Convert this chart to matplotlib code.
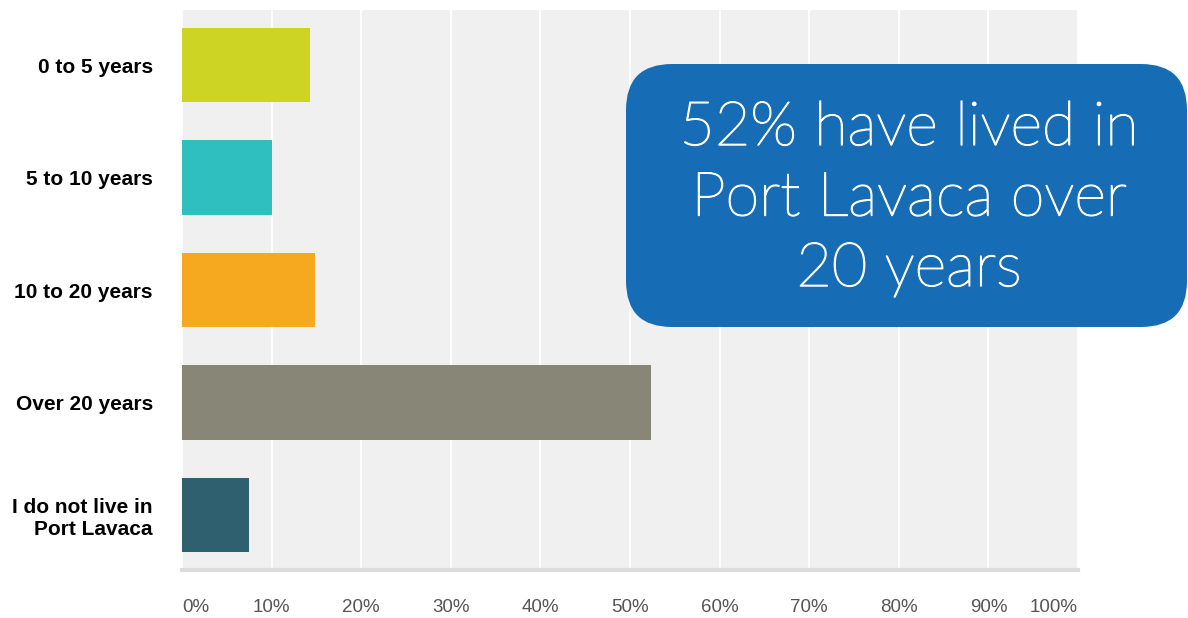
import matplotlib
matplotlib.use('Agg')
import matplotlib.pyplot as plt
import matplotlib.patheffects as pe
from matplotlib.patches import FancyBboxPatch

# survey answers, top to bottom
answers = ['0 to 5 years', '5 to 10 years', '10 to 20 years', 'Over 20 years',
           'I do not live in\nPort Lavaca']
percents = [14.3, 10.0, 14.8, 52.3, 7.5]
bar_colors = ['#cdd424', '#2fbfbe', '#f6a91f', '#878677', '#2f6070']
tick_vals = [0, 10, 20, 30, 40, 50, 60, 70, 80, 90, 100]
tick_text = ['%d%%' % v for v in tick_vals]
callout = '52% have lived in\nPort Lavaca over\n20 years'

W, H = 1188, 618
fig = plt.figure(figsize=(W / 100, H / 100), dpi=100)
fig.patch.set_facecolor('white')

ax = fig.add_axes([182 / W, 48 / H, (1078 - 182) / W, (608 - 48) / H])
ax.set_facecolor('#f0f0f0')
ax.set_axisbelow(True)
ax.grid(axis='x', color='white', linewidth=1.3)
ax.grid(axis='y', visible=False)

ypos = list(range(len(answers)))
ax.barh(ypos, percents, height=0.66, color=bar_colors, zorder=3)

ax.set_xlim(0, 100)
ax.set_ylim(4.49, -0.49)
ax.set_xticks(tick_vals)
ax.set_xticklabels(tick_text, fontsize=13.5, color='#555555', family='Liberation Sans')
ax.set_yticks(ypos)
ax.set_yticklabels(answers, fontsize=15, fontweight='bold', family='Liberation Sans')
ax.tick_params(axis='x', length=0, pad=21)
ax.tick_params(axis='y', length=0, pad=21)
labels = ax.get_xticklabels()
labels[0].set_horizontalalignment('left')
labels[-1].set_horizontalalignment('right')

for side in ['top', 'right', 'left']:
    ax.spines[side].set_visible(False)
ax.spines['bottom'].set_color('#dcdcdc')
ax.spines['bottom'].set_linewidth(3)

# blue callout box drawn in pixel coordinates
over = fig.add_axes([0, 0, 1, 1])
over.set_xlim(0, W)
over.set_ylim(H, 0)
over.axis('off')
box = FancyBboxPatch((626, 64), 561, 263,
                     boxstyle='round,pad=0,rounding_size=46',
                     facecolor='#166cb5', edgecolor='none')
over.add_patch(box)
baselines = [145, 215.5, 286]
for line, yb in zip(callout.split('\n'), baselines):
    over.text(909, yb, line, color='white', ha='center', va='baseline',
              fontsize=44, family='Lato', fontweight='light',
              path_effects=[pe.withStroke(linewidth=1.0, foreground='white')])

fig.savefig('out.png', dpi=100)
